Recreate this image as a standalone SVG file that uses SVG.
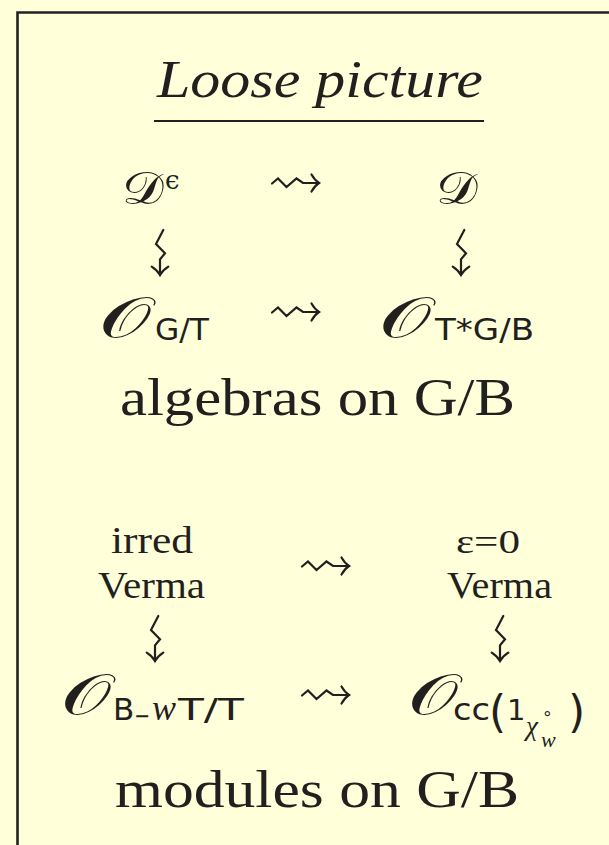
<svg xmlns="http://www.w3.org/2000/svg" width="609" height="845" viewBox="0 0 609 845">
<style>
text{fill:#221f1f}
.rm{font-family:"Liberation Serif","Times New Roman",serif}
.it{font-family:"Liberation Serif","Times New Roman",serif;font-style:italic}
.cal{font-family:"DejaVu Serif","Noto Sans",serif}
.sf{font-family:"DejaVu Sans","Noto Sans",sans-serif}
.gr{font-family:"DejaVu Serif",serif}
.arr{fill:none;stroke:#221f1f;stroke-width:2.2;stroke-linecap:round;stroke-linejoin:miter}
</style>
<defs>
<g id="hs"><path d="M0,0.5 L6,-4.5 L14.5,4 L24.5,-4.5 L31,0 H47"/><path d="M39.5,-8.5 Q43,-2.5 47,0 Q43,2.5 39.5,8.5"/></g>
<g id="vs"><path d="M3.3,2 L-4,16 L5,25.3 L0,31.3 V47"/><path d="M-8.3,38.7 Q-2.5,42.5 0,47 Q2.5,42.5 8.3,38.7"/></g>
</defs>
<rect width="609" height="845" fill="#ffffda"/>
<path d="M17.5,845 V12.5 H609" fill="none" stroke="#222" stroke-width="2.6"/>

<g id="title">
<text class="it" x="157" y="97" font-size="52" textLength="326" lengthAdjust="spacingAndGlyphs">Loose picture</text>
<line x1="154" y1="121" x2="484" y2="121" stroke="#221f1f" stroke-width="2"/>
</g>

<g id="n-Deps">
<text class="cal" x="122" y="204" font-size="46" textLength="42" lengthAdjust="spacingAndGlyphs">𝒟</text>
<text class="gr" x="165" y="189" font-size="26">ϵ</text>
</g>
<g id="n-D">
<text class="cal" x="436" y="204" font-size="46" textLength="42" lengthAdjust="spacingAndGlyphs">𝒟</text>
</g>
<g id="n-OGT">
<text class="cal" x="99" y="337" font-size="57" textLength="52" lengthAdjust="spacingAndGlyphs">𝒪</text>
<text class="sf" x="155" y="340" font-size="31" textLength="54" lengthAdjust="spacingAndGlyphs">G/T</text>
</g>
<g id="n-OTGB">
<text class="cal" x="379" y="337" font-size="57" textLength="52" lengthAdjust="spacingAndGlyphs">𝒪</text>
<text class="sf" x="435" y="340" font-size="31" textLength="99" lengthAdjust="spacingAndGlyphs">T*G/B</text>
</g>
<g id="label-alg">
<text class="rm" x="120" y="415" font-size="53" textLength="395" lengthAdjust="spacingAndGlyphs">algebras on G/B</text>
</g>

<g id="n-irred">
<text class="rm" x="111" y="553" font-size="37" textLength="82" lengthAdjust="spacingAndGlyphs">irred</text>
<text class="rm" x="98" y="598" font-size="37" textLength="107" lengthAdjust="spacingAndGlyphs">Verma</text>
</g>
<g id="n-eps0">
<text class="rm" x="456" y="553" font-size="34" textLength="64" lengthAdjust="spacingAndGlyphs">ε=0</text>
<text class="rm" x="447" y="598" font-size="37" textLength="105" lengthAdjust="spacingAndGlyphs">Verma</text>
</g>
<g id="n-OBwT">
<text class="cal" x="61" y="714" font-size="57" textLength="50" lengthAdjust="spacingAndGlyphs">𝒪</text>
<text class="sf" x="113" y="720" font-size="31">B</text>
<text class="sf" x="134" y="724" font-size="24" textLength="16" lengthAdjust="spacingAndGlyphs">−</text>
<text class="it" x="152" y="720" font-size="36">w</text>
<text class="sf" x="178" y="720" font-size="31" textLength="66" lengthAdjust="spacingAndGlyphs">T/T</text>
</g>
<g id="n-Occ">
<text class="cal" x="408" y="714" font-size="57" textLength="50" lengthAdjust="spacingAndGlyphs">𝒪</text>
<text class="sf" x="453" y="720" font-size="31" textLength="37" lengthAdjust="spacingAndGlyphs">cc</text>
<text class="sf" x="489" y="727" font-size="44">(</text>
<text class="sf" x="507" y="720" font-size="29">1</text>
<text class="it" x="526" y="735" font-size="27">χ</text>
<text class="sf" x="542" y="719" font-size="17">∘</text>
<text class="it" x="541" y="747" font-size="22">w</text>
<text class="sf" x="568" y="727" font-size="44">)</text>
</g>
<g id="label-mod">
<text class="rm" x="115" y="807" font-size="53" textLength="404" lengthAdjust="spacingAndGlyphs">modules on G/B</text>
</g>

<g id="connectors" class="arr">
<use href="#hs" x="272" y="183"/>
<use href="#hs" x="272" y="312"/>
<use href="#hs" x="302" y="566"/>
<use href="#hs" x="302" y="695"/>
<use href="#vs" x="160" y="228"/>
<use href="#vs" x="461" y="228"/>
<use href="#vs" x="155" y="614"/>
<use href="#vs" x="500" y="614"/>
</g>
</svg>
